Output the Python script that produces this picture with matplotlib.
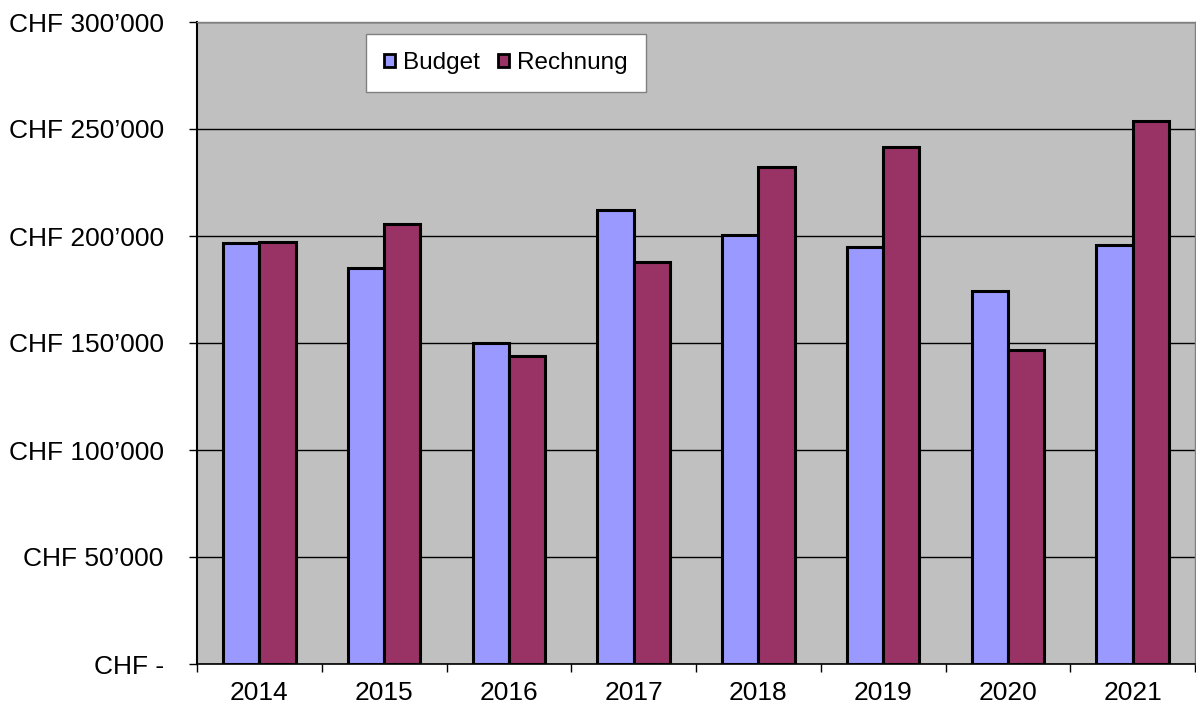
import matplotlib
matplotlib.use("Agg")
import matplotlib.pyplot as plt
import numpy as np
from matplotlib.patches import Patch

plt.rcParams['font.family'] = ['Liberation Sans', 'DejaVu Sans']

years = ["2014", "2015", "2016", "2017", "2018", "2019", "2020", "2021"]
budget = [196800, 185000, 150000, 212000, 200500, 194800, 174300, 195800]
rechnung = [197200, 205600, 143900, 187800, 232300, 241500, 146700, 253700]
yticks = [0, 50000, 100000, 150000, 200000, 250000, 300000]
ylabels = ["CHF -", "CHF 50\u2019000", "CHF 100\u2019000", "CHF 150\u2019000",
           "CHF 200\u2019000", "CHF 250\u2019000", "CHF 300\u2019000"]

FS = 19
LFS = 17.5

fig = plt.figure(figsize=(11.96, 7.09), dpi=100)
ax = fig.add_axes([197/1196, 1 - 664/709, (1195-197)/1196, (664-22)/709])
ax.set_facecolor('#C0C0C0')

x = np.arange(len(years))
w = 0.29
ax.bar(x - w/2, budget, w, color='#9999FF', edgecolor='black', linewidth=2.2, zorder=3, label='Budget')
ax.bar(x + w/2, rechnung, w, color='#993366', edgecolor='black', linewidth=2.2, zorder=3, label='Rechnung')

ax.set_ylim(0, 300000)
ax.set_xlim(-0.5, len(years) - 0.5)
ax.set_yticks(yticks)
ax.set_yticklabels(ylabels, fontsize=FS)
ax.set_xticks(x)
ax.set_xticklabels(years, fontsize=FS)
ax.set_xticks(np.arange(len(years) + 1) - 0.5, minor=True)
ax.tick_params(axis='x', which='major', length=0, pad=12)
ax.tick_params(axis='x', which='minor', length=6, width=1)
ax.tick_params(axis='y', length=6, width=1, pad=18)
ax.yaxis.grid(True, color='black', linewidth=1, zorder=1)
ax.set_axisbelow(True)

for s in ['top', 'right']:
    ax.spines[s].set_color('#808080')
    ax.spines[s].set_linewidth(1)
ax.spines['left'].set_linewidth(1.5)
ax.spines['bottom'].set_linewidth(1.2)

handles = [Patch(facecolor='#9999FF', edgecolor='black', linewidth=2, label='Budget'),
           Patch(facecolor='#993366', edgecolor='black', linewidth=2, label='Rechnung')]
leg = ax.legend(handles=handles, loc='upper left', bbox_to_anchor=(169/998, 1 - 12/642),
                ncol=2, fontsize=LFS, frameon=True, fancybox=False, framealpha=1,
                handlelength=0.45, handleheight=0.45, handletextpad=0.33, columnspacing=0.74,
                borderpad=0.75, borderaxespad=0)
leg.get_frame().set_edgecolor('#808080')
leg.get_frame().set_linewidth(1)
leg.get_frame().set_facecolor('white')

fig.savefig('out.png', dpi=100)
